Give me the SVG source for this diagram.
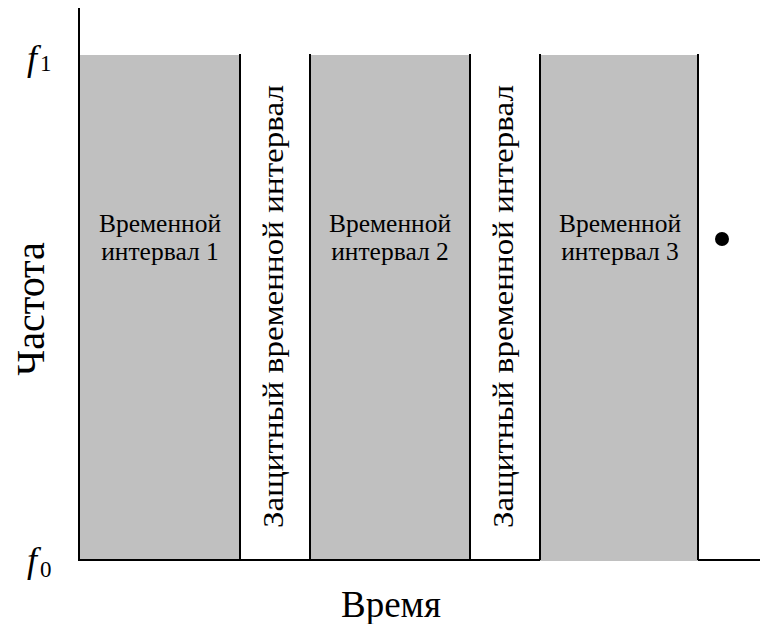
<svg xmlns="http://www.w3.org/2000/svg" width="760" height="624" viewBox="0 0 760 624">
  <style>
    .slot { fill: #c0c0c0; }
    .edge { stroke: #000; stroke-width: 2; fill: none; }
    text { font-family: "Times New Roman", Times, "Liberation Serif", "DejaVu Serif", serif; fill: #000; }
    .inner { font-size: 25.5px; text-anchor: middle; }
    .guard { font-size: 30px; text-anchor: middle; }
    .fsym { font-size: 36px; font-style: italic; }
    .fsub { font-size: 23px; }
  </style>
  <rect width="760" height="624" fill="#fff"/>

  <!-- axes -->
  <g id="axes">
    <line class="edge" x1="79" y1="8" x2="79" y2="561"/>
    <line class="edge" x1="78" y1="560" x2="760" y2="560"/>
  </g>

  <!-- time slots -->
  <g id="slot1">
    <rect class="slot" x="80" y="55" width="160" height="504"/>
    <text class="inner" x="160" y="232">Временной</text>
    <text class="inner" x="160" y="260">интервал 1</text>
  </g>
  <g id="guard1">
    <text class="guard" transform="translate(283,306.5) rotate(-90)" textLength="443" lengthAdjust="spacingAndGlyphs">Защитный временной интервал</text>
  </g>
  <g id="slot2">
    <rect class="slot" x="310" y="55" width="160" height="504"/>
    <text class="inner" x="390" y="232">Временной</text>
    <text class="inner" x="390" y="260">интервал 2</text>
  </g>
  <g id="guard2">
    <text class="guard" transform="translate(513,306.5) rotate(-90)" textLength="443" lengthAdjust="spacingAndGlyphs">Защитный временной интервал</text>
  </g>
  <g id="slot3">
    <rect class="slot" x="540" y="55" width="158" height="506"/>
    <text class="inner" x="620" y="232">Временной</text>
    <text class="inner" x="620" y="260">интервал 3</text>
  </g>

  <!-- slot boundaries -->
  <g id="boundaries">
    <line class="edge" x1="240" y1="54" x2="240" y2="560"/>
    <line class="edge" x1="310" y1="54" x2="310" y2="560"/>
    <line class="edge" x1="470" y1="54" x2="470" y2="560"/>
    <line class="edge" x1="540" y1="54" x2="540" y2="560"/>
    <line class="edge" x1="698" y1="54" x2="698" y2="560"/>
  </g>

  <circle id="more" cx="722" cy="239" r="7" fill="#000"/>

  <!-- axis labels -->
  <g id="f1">
    <text class="fsym" x="27" y="70">f</text>
    <text class="fsub" x="40" y="71">1</text>
  </g>
  <g id="f0">
    <text class="fsym" x="27" y="572">f</text>
    <text class="fsub" x="40" y="577">0</text>
  </g>
  <text id="time-label" x="391" y="617" font-size="37" text-anchor="middle">Время</text>
  <text id="freq-label" transform="translate(44,309) rotate(-90)" font-size="40" text-anchor="middle">Частота</text>
</svg>
